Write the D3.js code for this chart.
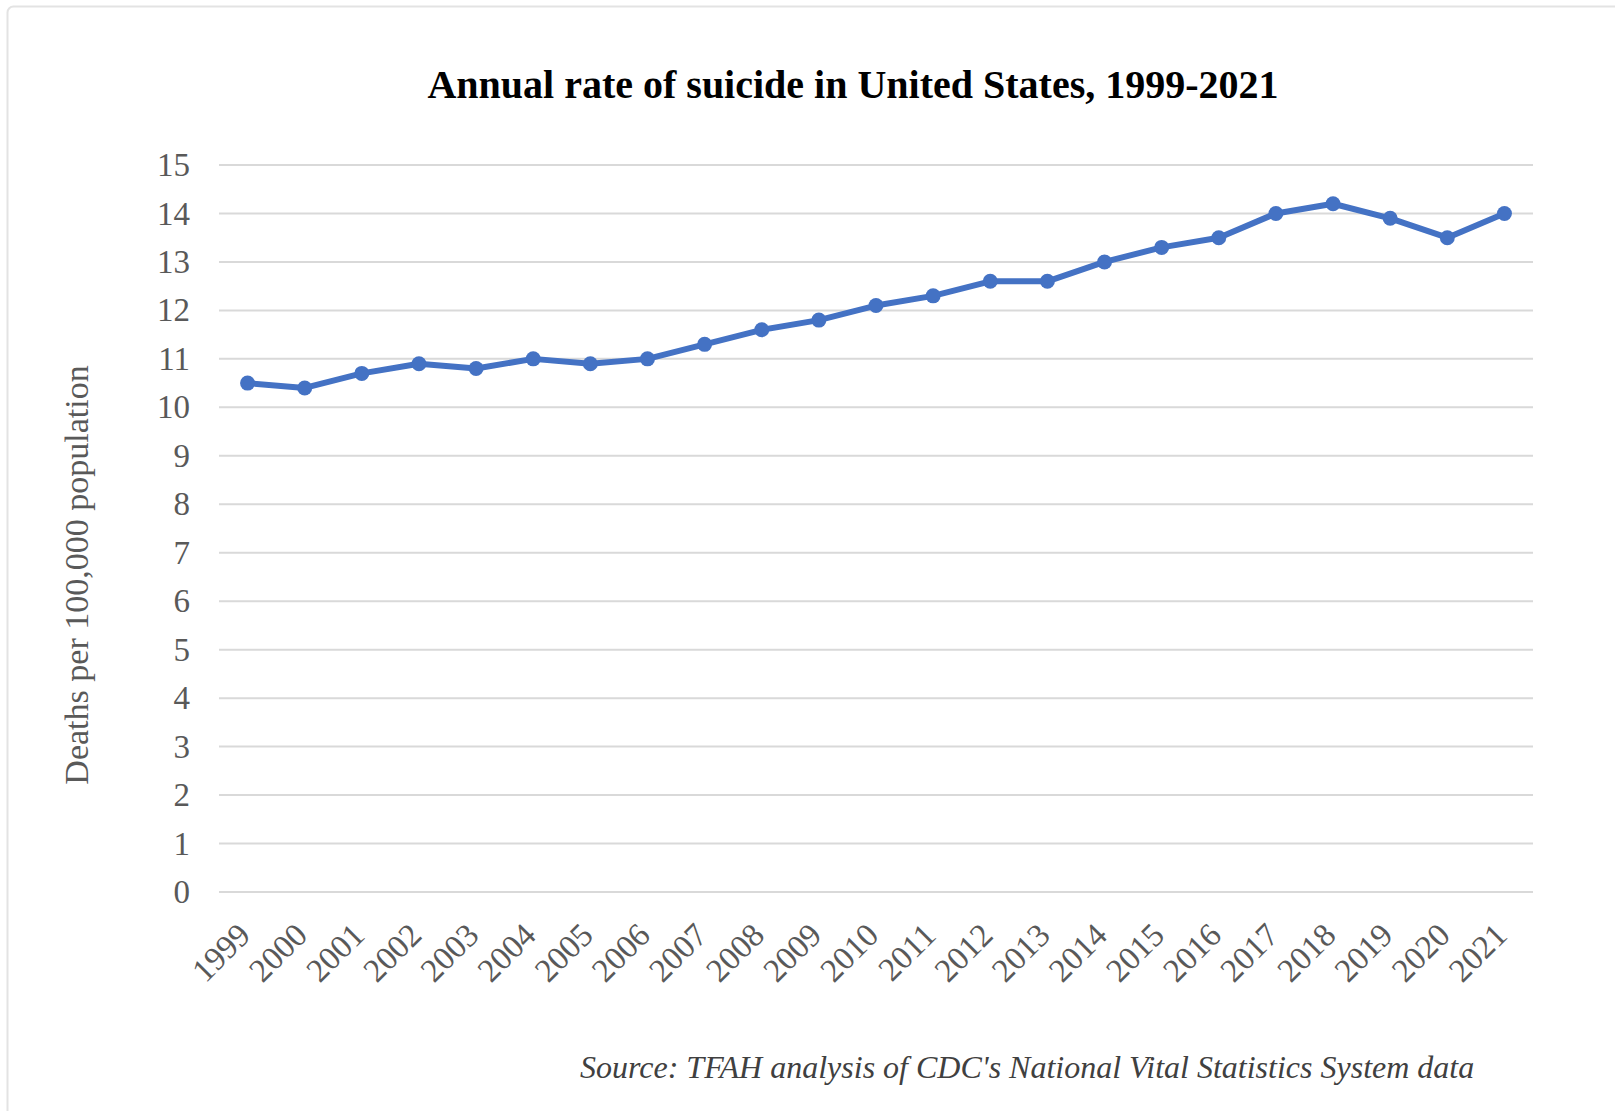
<!DOCTYPE html>
<html>
<head>
<meta charset="utf-8">
<script src="https://cdn.jsdelivr.net/npm/d3@7"></script>
<style>
  html, body { margin: 0; padding: 0; background: #fff; }
  svg { display: block; }
  text { font-family: "Liberation Serif", "Times New Roman", serif; }
</style>
</head>
<body>
<div id="chart"></div>
<script>
const years = ["1999","2000","2001","2002","2003","2004","2005","2006","2007","2008","2009","2010","2011","2012","2013","2014","2015","2016","2017","2018","2019","2020","2021"];
const rates = [10.5,10.4,10.7,10.9,10.8,11.0,10.9,11.0,11.3,11.6,11.8,12.1,12.3,12.6,12.6,13.0,13.3,13.5,14.0,14.2,13.9,13.5,14.0];
const yTicks = [0,1,2,3,4,5,6,7,8,9,10,11,12,13,14,15];
const titleText = "Annual rate of suicide in United States, 1999-2021";
const yTitleText = "Deaths per 100,000 population";
const sourceText = "Source: TFAH analysis of CDC's National Vital Statistics System data";

const W = 1615, H = 1111;
const plot = { left: 219, right: 1533, top: 165, bottom: 892 };

const svg = d3.select("#chart").append("svg")
  .attr("width", W).attr("height", H);

svg.append("rect").attr("x", 0).attr("y", 0).attr("width", W).attr("height", H).attr("fill", "#fff");

// outer frame (extends beyond right/bottom edges as in the reference)
svg.append("rect")
  .attr("x", 7.5).attr("y", 6.5)
  .attr("width", 1700).attr("height", 1200)
  .attr("rx", 6)
  .attr("fill", "none")
  .attr("stroke", "#e3e3e3")
  .attr("stroke-width", 2);

const x = d3.scalePoint().domain(years).range([plot.left, plot.right]).padding(0.5);
const y = d3.scaleLinear().domain([0, 15]).range([plot.bottom, plot.top]);

// gridlines
svg.append("g").selectAll("line").data(yTicks).join("line")
  .attr("x1", plot.left).attr("x2", plot.right)
  .attr("y1", d => y(d)).attr("y2", d => y(d))
  .attr("stroke", "#d9d9d9").attr("stroke-width", 2);

// y axis (labels only)
const yAxis = d3.axisLeft(y).tickValues(yTicks).tickSize(0).tickPadding(0).tickFormat(d3.format("d"));
const yg = svg.append("g").attr("transform", `translate(${plot.left - 29},0)`).call(yAxis);
yg.select(".domain").remove();
yg.selectAll("text")
  .attr("font-family", '"Liberation Serif", "Times New Roman", serif')
  .attr("font-size", 33).attr("fill", "#595959");

// x axis (rotated labels)
const xAxis = d3.axisBottom(x).tickSize(0).tickPadding(0);
const xg = svg.append("g").attr("transform", `translate(0,${plot.bottom})`).call(xAxis);
xg.select(".domain").remove();
xg.selectAll("text")
  .attr("font-family", '"Liberation Serif", "Times New Roman", serif')
  .attr("font-size", 33).attr("fill", "#595959")
  .attr("text-anchor", "end")
  .attr("dy", null).attr("y", null)
  .attr("transform", "translate(4,45) rotate(-45)");

// line
const line = d3.line().x((d, i) => x(years[i])).y(d => y(d));
svg.append("path").datum(rates)
  .attr("d", line)
  .attr("fill", "none")
  .attr("stroke", "#4472C4")
  .attr("stroke-width", 6)
  .attr("stroke-linejoin", "round");

svg.append("g").selectAll("circle").data(rates).join("circle")
  .attr("cx", (d, i) => x(years[i]))
  .attr("cy", d => y(d))
  .attr("r", 7.5)
  .attr("fill", "#4472C4");

// title
svg.append("text")
  .attr("x", 853).attr("y", 97.5)
  .attr("text-anchor", "middle")
  .attr("font-size", 40).attr("font-weight", "bold").attr("fill", "#000")
  .text(titleText);

// y title
svg.append("text")
  .attr("transform", "translate(88,575) rotate(-90)")
  .attr("text-anchor", "middle")
  .attr("font-size", 34).attr("fill", "#595959")
  .text(yTitleText);

// source
svg.append("text")
  .attr("x", 580).attr("y", 1078)
  .attr("font-size", 32).attr("font-style", "italic").attr("fill", "#404040")
  .text(sourceText);
</script>
</body>
</html>
